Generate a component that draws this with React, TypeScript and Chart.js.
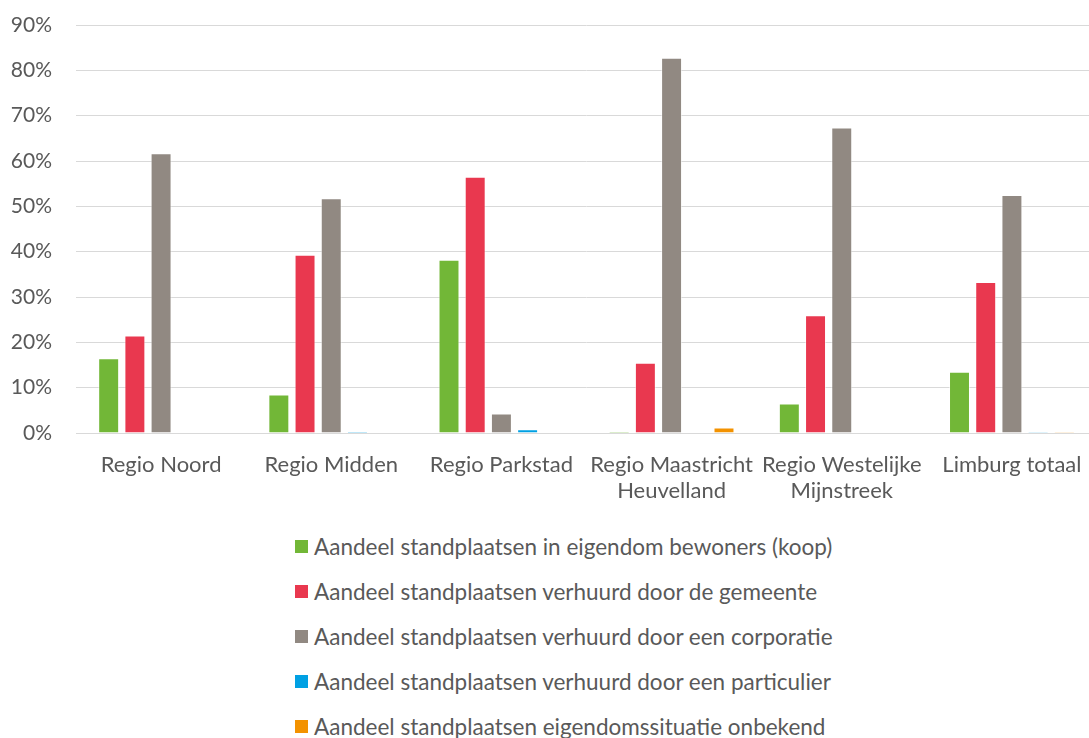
import React, { useEffect, useRef } from "react";
import { Chart, registerables } from "chart.js";

Chart.register(...registerables);

const categories: (string | string[])[] = [
  "Regio Noord",
  "Regio Midden",
  "Regio Parkstad",
  ["Regio Maastricht", "Heuvelland"],
  ["Regio Westelijke", "Mijnstreek"],
  "Limburg totaal",
];

const seriesNames = [
  "Aandeel standplaatsen in eigendom bewoners (koop)",
  "Aandeel standplaatsen verhuurd door de gemeente",
  "Aandeel standplaatsen verhuurd door een corporatie",
  "Aandeel standplaatsen verhuurd door een particulier",
  "Aandeel standplaatsen eigendomssituatie onbekend",
];

const seriesColors = ["#72B737", "#E9384F", "#918982", "#00A0E3", "#F39200"];

const koop = [16.5, 8.5, 38.2, 0.3, 6.5, 13.5];
const gemeente = [21.5, 39.3, 56.5, 15.5, 26.0, 33.3];
const corporatie = [61.7, 51.8, 4.3, 82.8, 67.4, 52.5];
const particulier = [0, 0.3, 0.8, 0, 0, 0.2];
const onbekend = [0, 0, 0, 1.2, 0, 0.2];

const seriesValues = [koop, gemeente, corporatie, particulier, onbekend];

const yTicks = [0, 10, 20, 30, 40, 50, 60, 70, 80, 90];

const FONT = "Lato, 'Noto Sans', sans-serif";
const TEXT = "#595959";

export default function App() {
  const ref = useRef<HTMLCanvasElement | null>(null);

  useEffect(() => {
    document.body.style.margin = "0";
    const canvas = ref.current;
    if (!canvas) return;
    const chart = new Chart(canvas, {
      type: "bar",
      data: {
        labels: categories,
        datasets: seriesValues.map((vals, i) => ({
          label: seriesNames[i],
          data: vals,
          backgroundColor: seriesColors[i],
          borderColor: "rgba(255,255,255,0.5)",
          borderWidth: 1,
          categoryPercentage: 0.77,
          barPercentage: 0.8,
        })),
      },
      options: {
        animation: false,
        responsive: false,
        maintainAspectRatio: false,
        layout: { padding: { top: 25, left: 0, right: 0, bottom: 0 } },
        plugins: {
          legend: { display: false },
          tooltip: { enabled: false },
        },
        scales: {
          x: {
            grid: { display: false, drawTicks: false },
            border: { display: true, color: "#d9d9d9", width: 1 },
            ticks: {
              color: TEXT,
              font: { family: FONT, size: 22, lineHeight: 1.22 },
              padding: 18,
              autoSkip: false,
              maxRotation: 0,
              minRotation: 0,
            },
            afterFit: (scale: any) => {
              scale.height = 77;
              scale.paddingLeft = 0;
              scale.paddingRight = 0;
            },
          },
          y: {
            min: 0,
            max: 90,
            afterBuildTicks: (scale: any) => {
              scale.ticks = yTicks.map((v) => ({ value: v }));
            },
            grid: { color: "#d9d9d9", lineWidth: 1, drawTicks: false },
            border: { display: false },
            ticks: {
              color: TEXT,
              font: { family: FONT, size: 21 },
              padding: 24,
              callback: (v: any) => v + "%",
            },
            afterFit: (scale: any) => {
              scale.width = 76;
              scale.paddingTop = 0;
              scale.paddingBottom = 0;
            },
          },
        },
      },
    });
    return () => chart.destroy();
  }, []);

  return (
    <div style={{ position: "relative", width: 1089, height: 738, overflow: "hidden", fontFamily: FONT }}>
      <canvas ref={ref} width={1097} height={510} style={{ display: "block" }} />
      <div style={{ position: "absolute", left: 295, top: 524 }}>
        {seriesNames.map((name, i) => (
          <div
            key={name}
            style={{ display: "flex", alignItems: "center", height: 45, color: TEXT, fontSize: 22.5, whiteSpace: "nowrap" }}
          >
            <span style={{ display: "inline-block", width: 13, height: 13, background: seriesColors[i], marginRight: 6 }} />
            <span>{name}</span>
          </div>
        ))}
      </div>
    </div>
  );
}
